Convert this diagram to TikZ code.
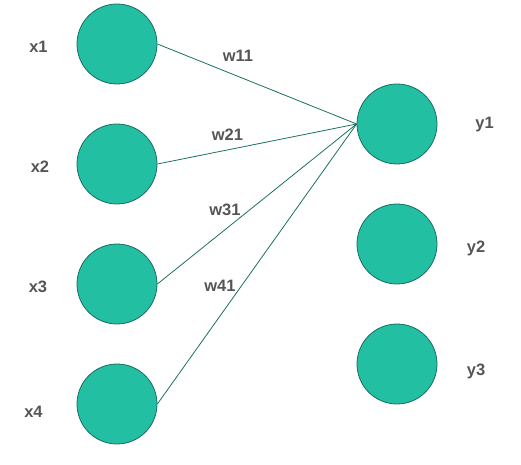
\documentclass[tikz,border=0pt]{standalone}
\usepackage{fontspec}
\setmainfont{Liberation Sans}
\definecolor{neuronfill}{HTML}{22BFA3}
\definecolor{neuronedge}{HTML}{1B6F62}
\definecolor{labelgray}{HTML}{555555}
\tikzset{
    neuron/.style={circle, draw=neuronedge, line width=0.8pt, fill=neuronfill,
        minimum size=80pt, inner sep=0pt},
    weight/.style={draw=neuronedge, line width=0.8pt},
    lbl/.style={text=labelgray, font=\fontsize{16.5}{18}\selectfont\bfseries,
        anchor=base, inner sep=0pt}
}
\begin{document}
\begin{tikzpicture}[x=1pt, y=1pt]
            \useasboundingbox (0,0) rectangle (521,464);
            % Define input layer
            \foreach \i/\y/\lx/\ly in {1/420/38.5/411, 2/300/40/291, 3/180/38/172, 4/60/33.5/47} {
                \node[neuron] (x\i) at (117,\y) {};
                \node[lbl] (lx\i) at (\lx,\ly) {x\i};
            }

            % Define output layer
            \foreach \j/\y/\lx/\ly in {1/340/484.5/335, 2/220/476/212, 3/100/476/89} {
                \node[neuron] (y\j) at (397,\y) {};
                \node[lbl] (ly\j) at (\lx,\ly) {y\j};
            }

            % Draw weights into y1
            \foreach \i in {1,2,3,4} {
                \draw[weight] (x\i.east) -- (y1.west);
            }
            \foreach \i/\lx/\ly in {1/238/402, 2/227.5/323, 3/225/249, 4/220/173} {
                \node[lbl] (w\i1) at (\lx,\ly) {w\i1};
            }
        \end{tikzpicture}
\end{document}
